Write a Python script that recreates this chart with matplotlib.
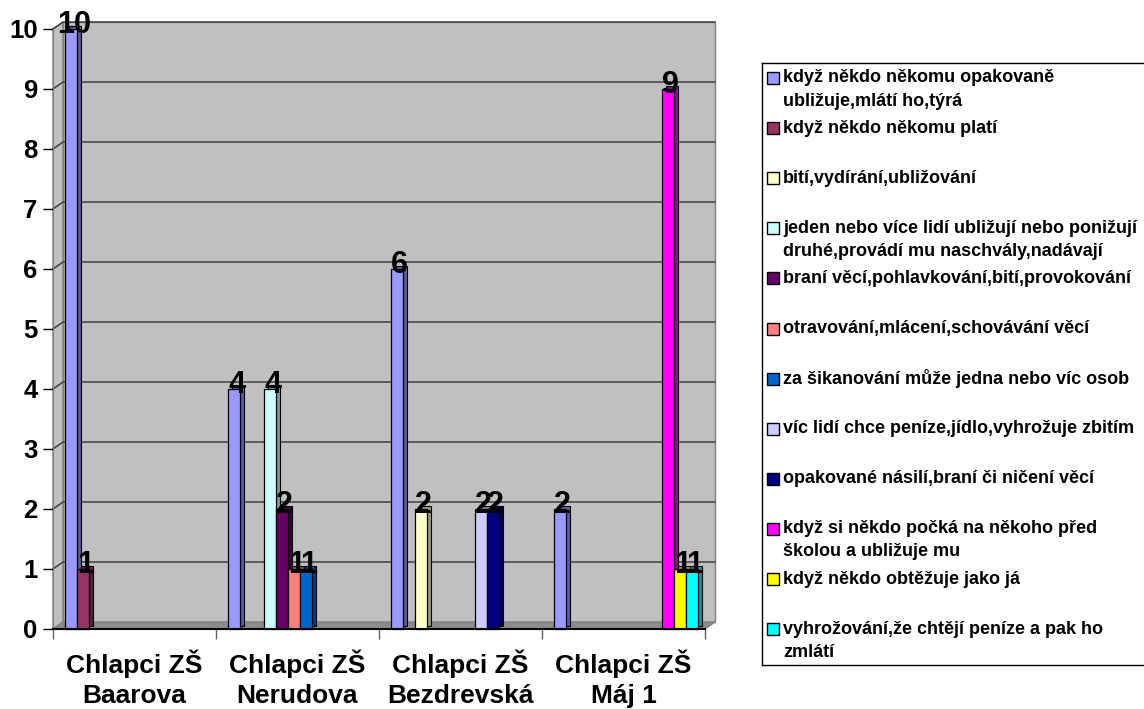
import numpy as np
import matplotlib
matplotlib.use("Agg")
import matplotlib.pyplot as plt
from matplotlib.patches import Rectangle, Polygon
from matplotlib.transforms import ScaledTranslation

plt.rcParams['font.family'] = ['Liberation Sans', 'DejaVu Sans']
plt.rcParams['font.weight'] = 'bold'

# data
categories = ["Chlapci ZŠ\nBaarova", "Chlapci ZŠ\nNerudova",
              "Chlapci ZŠ\nBezdrevská", "Chlapci ZŠ\nMáj 1"]
labels = [
    "když někdo někomu opakovaně\nubližuje,mlátí ho,týrá",
    "když někdo někomu platí",
    "bití,vydírání,ubližování",
    "jeden nebo více lidí ubližují nebo ponižují\ndruhé,provádí mu naschvály,nadávají",
    "braní věcí,pohlavkování,bití,provokování",
    "otravování,mlácení,schovávání věcí",
    "za šikanování může jedna nebo víc osob",
    "víc lidí chce peníze,jídlo,vyhrožuje zbitím",
    "opakované násilí,braní či ničení věcí",
    "když si někdo počká na někoho před\nškolou a ubližuje mu",
    "když někdo obtěžuje jako já",
    "vyhrožování,že chtějí peníze a pak ho\nzmlátí",
]
s1 = [10, 4, 6, 2]
s2 = [1, 0, 0, 0]
s3 = [0, 0, 2, 0]
s4 = [0, 4, 0, 0]
s5 = [0, 2, 0, 0]
s6 = [0, 1, 0, 0]
s7 = [0, 1, 0, 0]
s8 = [0, 0, 2, 0]
s9 = [0, 0, 2, 0]
s10 = [0, 0, 0, 9]
s11 = [0, 0, 0, 1]
s12 = [0, 0, 0, 1]
series = [s1, s2, s3, s4, s5, s6, s7, s8, s9, s10, s11, s12]
colors = ["#9999FF", "#993366", "#FFFFCC", "#CCFFFF", "#660066", "#FF8080",
          "#0066CC", "#CCCCFF", "#000080", "#FF00FF", "#FFFF00", "#00FFFF"]

fig = plt.figure(figsize=(11.44, 7.09), dpi=100)
W, H = 1144, 709
ax = fig.add_axes([53 / W, (H - 629) / H, 652 / W, 600 / H])
ax.set_xlim(0, 4)
ax.set_ylim(0, 10)
ax.set_facecolor('none')

# 3d walls (offset of the back plane in data units)
dx, dy = 10 / 163, 7 / 60
ax.add_patch(Rectangle((dx, dy), 4, 10, fc="#C0C0C0", ec="#808080", lw=1,
                       clip_on=False, zorder=0))
ax.add_patch(Polygon([(0, 0), (dx, dy), (dx, 10 + dy), (0, 10)], closed=True,
                     fc="#C0C0C0", ec="#808080", lw=1, clip_on=False, zorder=0))
ax.add_patch(Polygon([(0, 0), (4, 0), (4 + dx, dy), (dx, dy)], closed=True,
                     fc="#8C8C8C", ec="#808080", lw=1, clip_on=False, zorder=0.5))
for y in range(1, 11):
    ax.plot([0, dx, 4 + dx], [y, y + dy, y + dy], color="#404040", lw=1.1,
            clip_on=False, zorder=0.4)

# bars
w = 12 / 163
x = np.arange(len(categories))
shift = ax.transData + ScaledTranslation(0.04, 0.035, fig.dpi_scale_trans)
for i, (vals, c) in enumerate(zip(series, colors)):
    v = np.array(vals, dtype=float)
    v[v == 0] = np.nan
    xs = x + w * (i + 1)
    dark = tuple(0.6 * np.array(matplotlib.colors.to_rgb(c)))
    ax.bar(xs, v, width=w, align='edge', color=dark, edgecolor='black',
           lw=0.8, transform=shift, zorder=2 + i * 0.01, clip_on=False)
    ax.bar(xs, v, width=w, align='edge', color=c, edgecolor='black',
           lw=0.9, zorder=2.005 + i * 0.01, clip_on=False)
    for xi, vi in zip(xs, vals):
        if vi:
            ax.annotate(str(vi), (xi + w / 2, vi), xytext=(2, 3),
                        textcoords='offset points', ha='center', va='center',
                        fontsize=22, fontweight='bold', zorder=5,
                        annotation_clip=False)

# axes
for s in ['top', 'right']:
    ax.spines[s].set_visible(False)
ax.spines['left'].set_color('#808080')
ax.spines['bottom'].set_color('black')
ax.spines['bottom'].set_linewidth(1.5)
ax.spines['bottom'].set_zorder(3)
ax.set_yticks(range(0, 11))
ax.tick_params(axis='y', length=7, width=1, pad=4, labelsize=18.5)
ax.set_xticks(range(0, 5))
ax.set_xticklabels([])
ax.tick_params(axis='x', which='major', length=7, width=1, color='#606060')
ax.set_xticks(x + 0.5, minor=True)
ax.set_xticklabels(categories, minor=True, fontsize=19, fontweight='bold',
                   linespacing=1.3)
ax.tick_params(axis='x', which='minor', length=0, pad=15)
for t in ax.get_yticklabels():
    t.set_fontweight('bold')

# legend box (pixel layout)
lx0, ly0, ly1 = 762, 63, 665
lax = fig.add_axes([lx0 / W, (H - ly1) / H, (W + 10 - lx0) / W, (ly1 - ly0) / H])
lax.set_xlim(0, W + 10 - lx0)
lax.set_ylim(ly1 - ly0, 0)
lax.set_xticks([])
lax.set_yticks([])
for s in lax.spines.values():
    s.set_color('black')
    s.set_linewidth(1)
for k, (lab, c) in enumerate(zip(labels, colors)):
    yk = 15 + 50.1 * k
    lax.add_patch(Rectangle((5, yk - 6), 12, 12, fc=c, ec='black', lw=1))
    for j, line in enumerate(lab.split('\n')):
        lax.text(21, yk + 23 * j, line, fontsize=13, fontweight='bold',
                 va='center', ha='left')

fig.savefig("out.png", dpi=100)
